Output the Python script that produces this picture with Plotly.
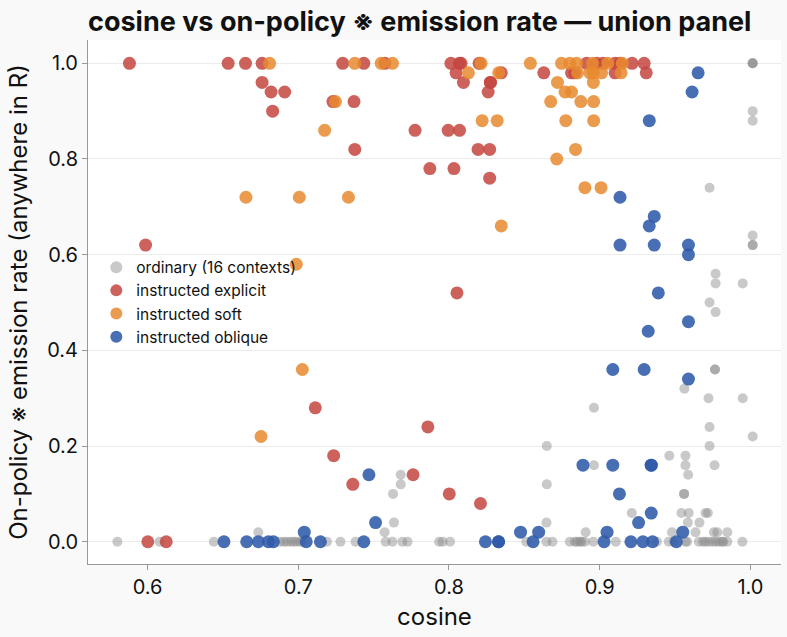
import plotly.graph_objects as go

# ---- data (cosine, on-policy emission rate) ----
ordinary_x = [0.580, 0.608, 0.644, 0.688, 0.6905, 0.6925, 0.695, 0.697, 0.699, 0.7013, 0.703, 0.719, 0.728, 0.738,
              0.758, 0.7625, 0.7691, 0.7725, 0.7935, 0.7958, 0.8007, 0.8513, 0.8647, 0.8687, 0.8802, 0.8835,
              0.885, 0.8869, 0.888, 0.8902, 0.8958, 0.9107, 0.938, 0.9458, 0.9491, 0.9569, 0.958, 0.9658,
              0.9685, 0.9702, 0.9725, 0.975, 0.977, 0.9791, 0.9813, 0.982, 0.9847, 0.9947,
              0.6735, 0.7573, 0.8907, 0.948, 0.9636, 0.9758, 0.978, 0.9847,
              0.7635, 0.8647, 0.9585, 0.9662,
              0.9213, 0.9542, 0.9591, 0.9702, 0.9718,
              0.7629, 0.956, 0.956,
              0.768, 0.8649,
              0.768, 0.9587,
              0.8962, 0.9569, 0.9762,
              0.9462, 0.9569,
              0.8649, 0.9729,
              1.0015, 0.9729, 0.8962, 0.9722, 0.9949, 0.9562,
              0.9765, 0.9765,
              0.9769, 0.9729, 0.9769, 0.9949, 0.9769,
              1.0015, 1.0015, 1.0015, 0.9729, 1.0015, 1.0015,
              1.0015, 1.0015, 1.0015]
ordinary_y = [0.0] * 48 + \
             [0.02] * 8 + \
             [0.04] * 4 + \
             [0.06] * 5 + \
             [0.10] * 3 + \
             [0.12] * 2 + \
             [0.14] * 2 + \
             [0.16] * 3 + \
             [0.18] * 2 + \
             [0.20] * 2 + \
             [0.22, 0.24, 0.28, 0.30, 0.30, 0.32] + \
             [0.36, 0.36] + \
             [0.48, 0.50, 0.54, 0.54, 0.56] + \
             [0.62, 0.62, 0.64, 0.74, 0.88, 0.90] + \
             [1.0, 1.0, 1.0]

explicit_x = [0.588, 0.6535, 0.665, 0.676, 0.7295, 0.7435, 0.7575, 0.8013, 0.807, 0.808, 0.82,
              0.8913, 0.898, 0.9023, 0.9102, 0.9135, 0.9215, 0.9295,
              0.8047, 0.8347, 0.8629, 0.8813, 0.8835, 0.9102, 0.9309,
              0.676, 0.8096, 0.8275, 0.8275,
              0.682, 0.691, 0.826,
              0.723, 0.737,
              0.683,
              0.7775, 0.7995, 0.807,
              0.7375, 0.8193, 0.827,
              0.7873, 0.8033,
              0.827,
              0.5987, 0.8053, 0.7113, 0.786, 0.7235, 0.7762, 0.7362, 0.8002, 0.8209,
              0.6002, 0.6124]
explicit_y = [1.0] * 18 + [0.98] * 7 + [0.96] * 4 + [0.94] * 3 + [0.92] * 2 + [0.90] + \
             [0.86] * 3 + [0.82] * 3 + [0.78] * 2 + [0.76] + \
             [0.62, 0.52, 0.28, 0.24, 0.18, 0.14, 0.12, 0.10, 0.08] + [0.0, 0.0]

soft_x = [0.681, 0.7375, 0.755, 0.7625, 0.8213, 0.854, 0.8747, 0.8802, 0.8847, 0.8953, 0.9053, 0.915,
          0.8129, 0.833, 0.8853, 0.8935, 0.8958, 0.9013, 0.9142,
          0.872, 0.8958,
          0.877, 0.8813,
          0.7247, 0.8675, 0.8875, 0.896,
          0.822, 0.832, 0.8775, 0.896,
          0.7175, 0.884, 0.8715,
          0.8902, 0.9009,
          0.6653, 0.7007, 0.7333,
          0.8347, 0.6987, 0.7027, 0.6753]
soft_y = [1.0] * 12 + [0.98] * 7 + [0.96] * 2 + [0.94] * 2 + [0.92] * 4 + [0.88] * 4 + \
         [0.86, 0.82, 0.80] + [0.74] * 2 + [0.72] * 3 + [0.66, 0.58, 0.36, 0.22]

oblique_x = [0.9653, 0.9613, 0.9329, 0.9135, 0.9362, 0.9329,
             0.9135, 0.9362, 0.9589, 0.9589, 0.9389, 0.9589, 0.9322,
             0.9087, 0.9295, 0.9589,
             0.8889, 0.9087, 0.9342, 0.9342,
             0.7469, 0.9131, 0.9342, 0.7513, 0.9258,
             0.704, 0.8475, 0.8595, 0.9049, 0.9551,
             0.6507, 0.6658, 0.6735, 0.6802, 0.6835, 0.7053, 0.7147, 0.7435,
             0.8242, 0.8329, 0.8329, 0.8558, 0.9029, 0.9207, 0.9287, 0.9351, 0.9509]
oblique_y = [0.98, 0.94, 0.88, 0.72, 0.68, 0.66,
             0.62, 0.62, 0.62, 0.60, 0.52, 0.46, 0.44,
             0.36, 0.36, 0.34,
             0.16, 0.16, 0.16, 0.16,
             0.14, 0.10, 0.06, 0.04, 0.04,
             0.02, 0.02, 0.02, 0.02, 0.02] + [0.0] * 17

series = [
    ("ordinary (16 contexts)", ordinary_x, ordinary_y, "#888888", 10, 0.45),
    ("instructed explicit", explicit_x, explicit_y, "#c4463f", 13, 0.85),
    ("instructed soft", soft_x, soft_y, "#e8892e", 13, 0.85),
    ("instructed oblique", oblique_x, oblique_y, "#2f5aa8", 13, 0.88),
]

fig = go.Figure()
for name, xs, ys, col, sz, op in series:
    fig.add_trace(go.Scatter(
        x=xs, y=ys, mode="markers", name=name,
        marker=dict(color=col, size=sz, opacity=op, line=dict(width=0)),
    ))

font_family = "Inter, 'Noto Sans', sans-serif"
fig.update_layout(
    width=787, height=637,
    margin=dict(l=88, r=6, t=40, b=73),
    paper_bgcolor="#f9f9f9",
    plot_bgcolor="#ffffff",
    font=dict(family=font_family, color="#111111", size=20),
    title=dict(text="<b>cosine vs on-policy ※ emission rate — union panel</b>",
               x=88 / 787, xanchor="left", y=1 - 22 / 637, yanchor="middle",
               font=dict(size=27, family=font_family, color="#111111")),
    showlegend=True,
    legend=dict(x=0.012, y=0.598, xanchor="left", yanchor="top",
                bgcolor="rgba(0,0,0,0)", font=dict(size=15.5, color="#111111"),
                itemsizing="constant", tracegroupgap=0),
    xaxis=dict(title=dict(text="cosine", font=dict(size=24), standoff=10),
               range=[0.5605, 1.0203], tickvals=[0.6, 0.7, 0.8, 0.9, 1.0],
               ticktext=["0.6", "0.7", "0.8", "0.9", "1.0"],
               showgrid=False, zeroline=False, showline=True, linecolor="#999999",
               ticks="outside", ticklen=5, tickcolor="#999999",
               tickfont=dict(size=20)),
    yaxis=dict(title=dict(text="On-policy ※ emission rate (anywhere in R)", font=dict(size=24), standoff=12),
               range=[-0.0465, 1.0487], tickvals=[0, 0.2, 0.4, 0.6, 0.8, 1.0],
               ticktext=["0.0", "0.2", "0.4", "0.6", "0.8", "1.0"],
               showgrid=True, gridcolor="#ebebeb", gridwidth=1, zeroline=False,
               showline=True, linecolor="#999999",
               ticks="outside", ticklen=5, tickcolor="#999999",
               tickfont=dict(size=20)),
)

fig.write_html("out.html")
